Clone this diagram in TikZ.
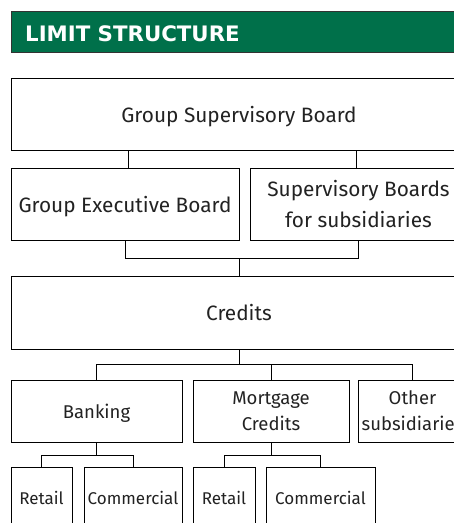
\documentclass[tikz,border=0pt]{standalone}
\usepackage{fontspec}
\setmainfont{Fira Sans}
\newfontfamily\headfont{DejaVu Sans}
\definecolor{headgreen}{HTML}{00704A}
\definecolor{inkgray}{HTML}{222222}
\begin{document}
\begin{tikzpicture}[x=1pt, y=-1pt,
  box/.style={draw=black, line width=0.9pt, fill=white, inner sep=0pt, outer sep=0pt,
    anchor=north west, align=center, text=inkgray, text depth=0pt},
  bigtext/.style={font=\fontsize{20.8}{31}\selectfont},
  midtext/.style={font=\fontsize{18.5}{26}\selectfont},
  smalltext/.style={font=\fontsize{17}{22}\selectfont},
  link/.style={draw=black, line width=0.9pt}]
  \useasboundingbox (0,0) rectangle (454,523);
  \clip (0,0) rectangle (454,523);
  \fill[white] (0,0) rectangle (454,523);

  % title bar
  \node[draw=black!80, line width=0.8pt, fill=headgreen, inner sep=0pt, outer sep=0pt,
    anchor=north west, minimum width=456pt, minimum height=41pt] (head) at (11,11) {};
  \node[anchor=west, text=white, inner sep=0pt,
    font=\headfont\bfseries\fontsize{21.3}{25}\selectfont] (title) at (25,34) {LIMIT STRUCTURE};

  % boxes
  \node[box, bigtext, minimum width=456pt, minimum height=72pt] (gsb) at (11,78) {Group Supervisory Board};
  \node[box, bigtext, minimum width=228pt, minimum height=72pt] (geb) at (11,168) {Group Executive Board};
  \node[box, bigtext, minimum width=217pt, minimum height=72pt] (sbs) at (250,168) {Supervisory Boards\\for subsidiaries};
  \node[box, bigtext, minimum width=456pt, minimum height=73pt] (cred) at (11,276) {Credits};
  \node[box, midtext, minimum width=171pt, minimum height=62pt] (bank) at (11,380) {Banking};
  \node[box, midtext, minimum width=156pt, minimum height=62pt] (mort) at (193,380) {Mortgage\\Credits};
  \node[box, midtext, minimum width=109pt, minimum height=62pt] (other) at (358,380) {Other\\subsidiaries};
  \node[box, smalltext, minimum width=61pt, minimum height=61pt] (bret) at (11,467) {Retail};
  \node[box, smalltext, minimum width=98pt, minimum height=61pt] (bcom) at (84,467) {Commercial};
  \node[box, smalltext, minimum width=62pt, minimum height=61pt] (mret) at (193,467) {Retail};
  \node[box, smalltext, minimum width=109pt, minimum height=61pt] (mcom) at (266,467) {Commercial};

  % connectors
  \draw[link] ([xshift=3pt]geb.north) -- ([xshift=3pt]geb.north |- gsb.south);
  \draw[link] ([xshift=-2pt]sbs.north) -- ([xshift=-2pt]sbs.north |- gsb.south);
  \draw[link] (geb.south) -- ++(0,18) -| (sbs.south);
  \draw[link] (cred.north) -- (cred.north |- 0,258);

  \draw[link] (cred.south) -- ++(0,15) coordinate (hub);
  \draw[link] (bank.north) -- (bank.north |- hub) -| (other.north);
  \draw[link] (mort.north) -- (mort.north |- hub);

  \draw[link] (bank.south) -- ++(0,13) coordinate (bhub);
  \draw[link] (bret.north) -- (bret.north |- bhub) -| (bcom.north);
  \draw[link] (mort.south) -- ++(0,13) coordinate (mhub);
  \draw[link] (mret.north) -- (mret.north |- mhub) -| (mcom.north);
\end{tikzpicture}
\end{document}
